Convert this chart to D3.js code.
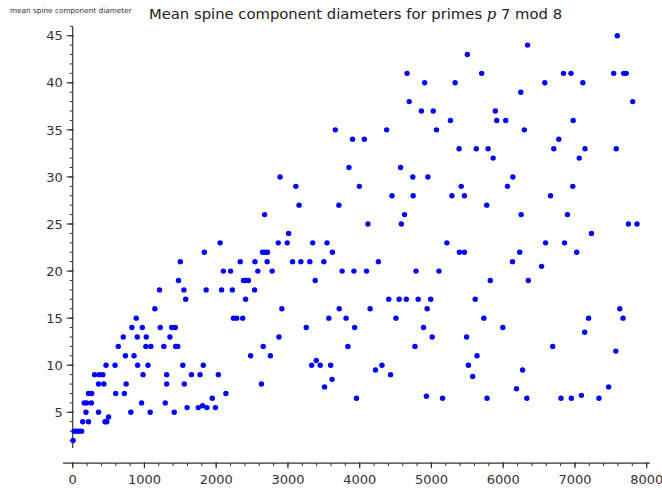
<!DOCTYPE html>
<html><head><meta charset="utf-8">
<script src="https://cdn.jsdelivr.net/npm/d3@7"></script>
<style>body{margin:0;background:#fff} svg{display:block}</style>
</head><body>
<script>
// primes p (x) and mean spine component diameters (y)
const primes = [
 3660,3900,3850,7590,6340,5500,4660,5700,6840,6945,7540,7680,7715,4905,5330,6580,7110,6245,4690,7805,
 4860,5025,5890,5265,5910,6035,6975,4375,5070,6295,4065,6775,5385,5625,5790,6705,7140,7575,5860,7060,4570,
 4740,4950,6135,3995,5415,6060,6970,4450,4745,5285,5460,6660,5770,4625,6250,6895,4115,4580,7745,7865,7230,
 5215,6590,6855,5390,5460,6230,7025,4260,6130,6535,3920,4095,4785,5105,5820,6350,4405,4550,4650,4815,4990,5610,
 4145,4940,7625,
 2890,3110,3155,3710,2675,3010,2055,2865,2990,3345,3545,1835,2645,2680,2715,3620,1500,2335,2540,2710,3065,3180,
 3305,3500,2100,2200,2580,2780,3755,1475,2380,2415,2450,3380,1210,1550,1860,2075,2225,2535,1575,2410,1145,2915,3715,
 885,2240,2286,2370,825,970,1220,1380,1430,705,900,1025,1355,635,1020,1090,1270,1435,1465,735,855,2480,
 465,590,905,1050,1535,1820,305,370,420,980,1310,1655,1775,2030,360,435,745,1310,1555,2630,220,265,600,720,2135,
 160,195,260,960,1290,1945,185,360,810,1080,1415,500,1595,1750,1810,1870,1990,140,220,450,475,20,55,90,125,5,
 3570,3810,4505,3255,3930,4890,2875,5010,2655,3835,4770,2755,3395,3330,3450,3595,4220,4310,4430,3615,3510,3955,4930,5155,
 5730,7190,7670,5995,5490,7135,6690,7570,5635,5515,6270,5575,6185,7470,5775,6330,6805,6950,7090,7335
];
const diameters = [
 35,34,31,45,44,43,41,41,41,41,41,41,41,40,40,40,40,39,38,38,
 37,37,37,36,36,36,36,35,35,35,34,34,33,33,33,33,33,33,32,32,31,
 30,30,30,29,29,29,29,28,28,28,28,28,27,26,26,26,25,25,25,25,24,
 23,23,23,22,22,22,22,21,21,20.5,20,20,20,20,19,19,17,17,17,17,17,17,
 16,16,16,
 30,29,27,27,26,24,23,23,23,23,23,22,22,22,22,22,21,21,21,21,21,21,
 21,21,20,20,20,20,20,19,19,19,19,19,18,18,18,18,18,18,17,17,16,16,16,
 15,15,15,15,14,14,14,14,14,13,13,13,13,12,12,12,12,12,12,11,11,11,
 10,10,10,10,10,10,9,9,9,9,9,9,9,9,8,8,8,8,8,8,7,7,7,7,7,
 6,6,6,6,6,6.5,5,5,5,5,5,4.5,5.5,5.5,5.7,5.5,5.5,4,4,4,4,3,3,3,3,2,
 15,15,15,14,14,14,13,13,12,12,12,11,10.5,10,10,10,9.5,10,9,8.5,7.7,6.5,6.7,6.5,
 15,15,15,14,13,13.5,12,11.5,11,10,9.5,8.8,7.5,7.7,6.5,6.5,6.5,6.5,6.8,6.5
];
const xTicks = [0,1000,2000,3000,4000,5000,6000,7000,8000];
const yTicks = [5,10,15,20,25,30,35,40,45];
const xMinor = d3.range(0, 8001, 200);
const yMinor = d3.range(2, 47, 1);
const titleParts = ["Mean spine component diameters for primes ", "p", " 7 mod 8"];
const yLabel = "mean spine component diameter";

const W = 662, H = 490;
const svg = d3.select("body").append("svg").attr("width", W).attr("height", H)
  .style("font-family", "'DejaVu Sans', sans-serif");

const x = d3.scaleLinear().domain([0, 8000]).range([72.7, 646.7]);
const y = d3.scaleLinear().domain([5, 45]).range([412.3, 35.7]);

const axisColor = "#333";
const textColor = "#333";

// axis lines
const xAxisY = y(-0.4);
svg.append("line").attr("x1", x(-135)).attr("x2", x(8045)).attr("y1", xAxisY).attr("y2", xAxisY)
  .attr("stroke", axisColor).attr("stroke-width", 1.2);
svg.append("line").attr("x1", x(0)).attr("x2", x(0)).attr("y1", y(1.2)).attr("y2", y(46))
  .attr("stroke", axisColor).attr("stroke-width", 1.2);

// x ticks
const gx = svg.append("g");
gx.selectAll("line.minor").data(xMinor).join("line")
  .attr("x1", d => x(d)).attr("x2", d => x(d)).attr("y1", xAxisY).attr("y2", xAxisY + 3)
  .attr("stroke", axisColor).attr("stroke-width", 1);
gx.selectAll("line.major").data(xTicks).join("line")
  .attr("x1", d => x(d)).attr("x2", d => x(d)).attr("y1", xAxisY - 1).attr("y2", xAxisY + 5)
  .attr("stroke", axisColor).attr("stroke-width", 1.2);
gx.selectAll("text").data(xTicks).join("text")
  .attr("x", d => x(d)).attr("y", xAxisY + 21).attr("text-anchor", "middle")
  .attr("font-size", 13).attr("fill", textColor).text(d => d);

// y ticks
const gy = svg.append("g");
gy.selectAll("line.minor").data(yMinor).join("line")
  .attr("x1", x(0) - 3).attr("x2", x(0)).attr("y1", d => y(d)).attr("y2", d => y(d))
  .attr("stroke", axisColor).attr("stroke-width", 1);
gy.selectAll("line.major").data(yTicks).join("line")
  .attr("x1", x(0) - 6).attr("x2", x(0) + 1).attr("y1", d => y(d)).attr("y2", d => y(d))
  .attr("stroke", axisColor).attr("stroke-width", 1.2);
gy.selectAll("text").data(yTicks).join("text")
  .attr("x", x(0) - 10).attr("y", d => y(d) + 4.7).attr("text-anchor", "end")
  .attr("font-size", 13).attr("fill", textColor).text(d => d);

// points
svg.append("g").selectAll("circle").data(primes).join("circle")
  .attr("cx", (d) => x(d)).attr("cy", (d, i) => y(diameters[i])).attr("r", 2.7)
  .attr("fill", "#0000ff");

// title
const t = svg.append("text").attr("x", 355.5).attr("y", 18.5).attr("text-anchor", "middle")
  .attr("font-size", 14.8).attr("fill", "#222");
t.append("tspan").text(titleParts[0]);
t.append("tspan").attr("font-family", "'DejaVu Serif', serif").attr("font-style", "italic").text(titleParts[1]);
t.append("tspan").text(titleParts[2]);

// y label
svg.append("text").attr("x", 10).attr("y", 13).attr("font-size", 7.3).attr("fill", textColor).text(yLabel);
</script>
</body></html>
